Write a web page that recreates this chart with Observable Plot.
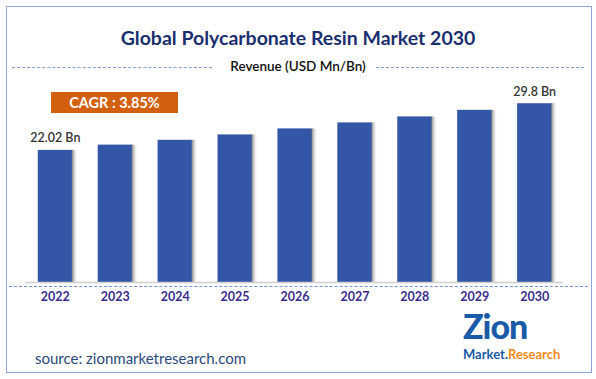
<!DOCTYPE html>
<html><head><meta charset="utf-8">
<script src="https://cdn.jsdelivr.net/npm/d3@7"></script>
<script src="https://cdn.jsdelivr.net/npm/@observablehq/plot@0.6"></script>
<style>
body{margin:0;background:#fff;}
#wrap{position:relative;width:596px;height:379px;overflow:hidden;font-family:Lato,"Open Sans",sans-serif;background:#fff;}
#wrap svg{position:absolute;left:0;top:0;}
.abs{position:absolute;white-space:nowrap;}
#wrap g[aria-label="x-axis tick label"] text{font-weight:bold;}
</style></head><body><div id="wrap"></div>
<script>
const years = ["2022","2023","2024","2025","2026","2027","2028","2029","2030"];
const revenue = [22.02, 22.9, 23.7, 24.6, 25.6, 26.6, 27.6, 28.7, 29.8];
const labelYears = ["2022","2030"];
const labelTexts = ["22.02 Bn","29.8 Bn"];
const titleText = "Global Polycarbonate Resin Market 2030";
const subtitleText = "Revenue (USD Mn/Bn)";
const cagrText = "CAGR : 3.85%";
const sourceText = "source: zionmarketresearch.com";

const data = years.map((y, i) => ({year: y, value: revenue[i]}));
const labelData = labelYears.map((y, i) => ({year: y, value: revenue[years.indexOf(y)], label: labelTexts[i]}));

const chart = Plot.plot({
  width: 596, height: 379,
  marginLeft: 12, marginRight: 19, marginTop: 102, marginBottom: 97,
  x: {type: "band", domain: years, padding: 0.43, round: false, label: null},
  y: {domain: [0, 30], axis: null},
  style: {background: "transparent", fontFamily: "Lato, sans-serif", overflow: "visible"},
  marks: [
    Plot.barY(data, {x: "year", y: "value", fill: "url(#barShadow)", dx: 6}),
    Plot.barY(data, {x: "year", y: "value", fill: "#3357a6"}),
    Plot.ruleY([0], {stroke: "#d0d0d0", strokeWidth: 1.5, insetLeft: 13, insetRight: 14}),
    Plot.axisX({tickSize: 0, tickPadding: 10, fontSize: 12.5, color: "#3b2d8c", label: null}),
    Plot.text(labelData, {x: "year", y: "value", text: "label", dy: -12, fontSize: 12.5, fontWeight: 600, fill: "#333"})
  ]
});
const ns = "http://www.w3.org/2000/svg";
const defs = document.createElementNS(ns, "defs");
defs.innerHTML = '<linearGradient id="barShadow" x1="0" x2="1" y1="0" y2="0">' +
  '<stop offset="0" stop-color="#fff" stop-opacity="0"/>' +
  '<stop offset="0.8" stop-color="#fff" stop-opacity="0"/>' +
  '<stop offset="0.82" stop-color="#6a6a6a" stop-opacity="0.9"/>' +
  '<stop offset="1" stop-color="#ffffff" stop-opacity="0"/></linearGradient>';
chart.insertBefore(defs, chart.firstChild);

const wrap = document.getElementById("wrap");
wrap.appendChild(chart);

function add(html) { wrap.insertAdjacentHTML("beforeend", html); }
// border
add('<div class="abs" style="left:6px;top:6px;width:586px;height:367px;box-sizing:border-box;border:1.5px solid #8ea6e6;"></div>');
// title
add(`<div class="abs" style="left:0;width:596px;top:26px;text-align:center;font-size:19.5px;font-weight:bold;color:#1b2f6e;">${titleText}</div>`);
// subtitle with dashed lines
add('<div class="abs" style="left:12px;top:67px;width:200px;border-top:1.3px dashed #7f9ed8;"></div>');
add('<div class="abs" style="left:376px;top:67px;width:208px;border-top:1.3px dashed #7f9ed8;"></div>');
add(`<div class="abs" style="left:0;width:596px;top:58px;text-align:center;font-size:13.5px;font-weight:600;color:#111;">${subtitleText}</div>`);
// CAGR box
add(`<div class="abs" style="left:51px;top:92px;width:127px;height:21px;background:#d2600e;color:#fff;font-weight:bold;font-size:14.5px;text-align:center;line-height:21px;">${cagrText}</div>`);
// dashed axis line
add('<div class="abs" style="left:9px;top:286px;width:579px;border-top:1.3px dashed #6f95d6;"></div>');
// source
add(`<div class="abs" style="left:35px;top:348px;font-size:15px;line-height:20px;color:#2c4a7c;">${sourceText}</div>`);
// logo
add('<div class="abs" style="left:463px;top:306px;font-size:34px;line-height:39px;height:39px;font-weight:900;color:#1b5aa6;letter-spacing:-1px;font-family:Lato,sans-serif;">Zion</div>');
add('<div class="abs" style="left:463px;top:346px;font-size:13px;line-height:16px;height:16px;font-weight:bold;font-family:Lato,sans-serif;"><span style="color:#1b5aa6">Market.</span><span style="color:#f08a1c">Research</span></div>');
</script></body></html>
